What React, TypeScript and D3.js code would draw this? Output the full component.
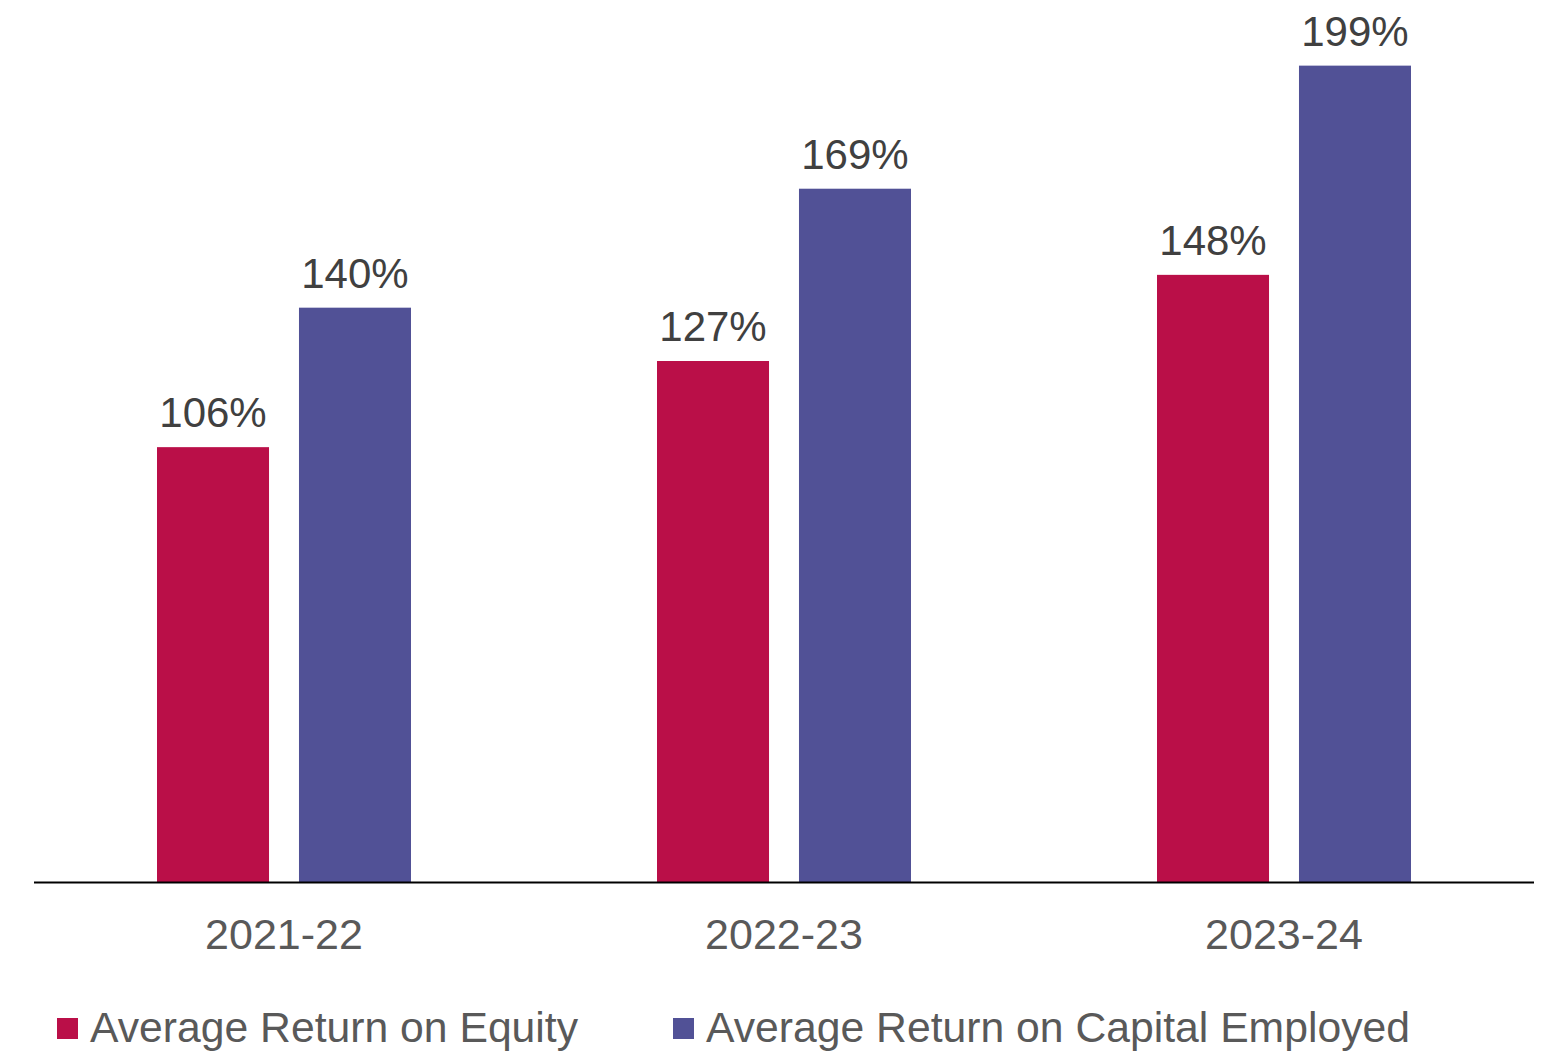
import React from "react";
import * as d3 from "d3";

// Chart data
const years = ["2021-22", "2022-23", "2023-24"];
const series = ["Average Return on Equity", "Average Return on Capital Employed"];
const equity = [106, 127, 148];
const capitalEmployed = [140, 169, 199];
const colors = ["#BA0F48", "#515196"];

const W = 1546;
const H = 1052;
const font = "'Liberation Sans', Arial, sans-serif";

const App = () => {
  // Plot area
  const left = 34;
  const right = 1534;
  const baseY = 882;

  const x = d3.scaleBand().domain(years).range([left, right]).padding(0);
  const inner = d3
    .scaleBand()
    .domain(series)
    .range([-127, 127])
    .paddingInner(0.211)
    .paddingOuter(0);
  const y = d3.scaleLinear().domain([0, 215]).range([baseY, 0]);

  const values = [equity, capitalEmployed];

  return (
    <svg
      width={W}
      height={H}
      style={{ position: "absolute", left: 0, top: 0, background: "#fff" }}
      fontFamily={font}
    >
      {years.map((yr, i) => {
        const cx = (x(yr) as number) + x.bandwidth() / 2;
        return (
          <g key={yr}>
            {series.map((s, j) => {
              const v = values[j][i];
              const bx = cx + (inner(s) as number);
              return (
                <g key={s}>
                  <rect
                    x={bx}
                    y={y(v)}
                    width={inner.bandwidth()}
                    height={baseY - y(v)}
                    fill={colors[j]}
                  />
                  <text
                    x={bx + inner.bandwidth() / 2}
                    y={y(v) - 20}
                    textAnchor="middle"
                    fontSize={42}
                    fill="#404040"
                  >
                    {v}%
                  </text>
                </g>
              );
            })}
            <text x={cx} y={949} textAnchor="middle" fontSize={43} fill="#595959">
              {yr}
            </text>
          </g>
        );
      })}
      <line x1={left} x2={right} y1={baseY + 0.5} y2={baseY + 0.5} stroke="#000" strokeWidth={2} />
      {/* Legend */}
      {series.map((s, j) => {
        const lx = j === 0 ? 57 : 673;
        return (
          <g key={s}>
            <rect x={lx} y={1018} width={21} height={21} fill={colors[j]} />
            <text x={lx + 33} y={1041.5} fontSize={42.7} fill="#595959">
              {s}
            </text>
          </g>
        );
      })}
    </svg>
  );
};

export default App;
